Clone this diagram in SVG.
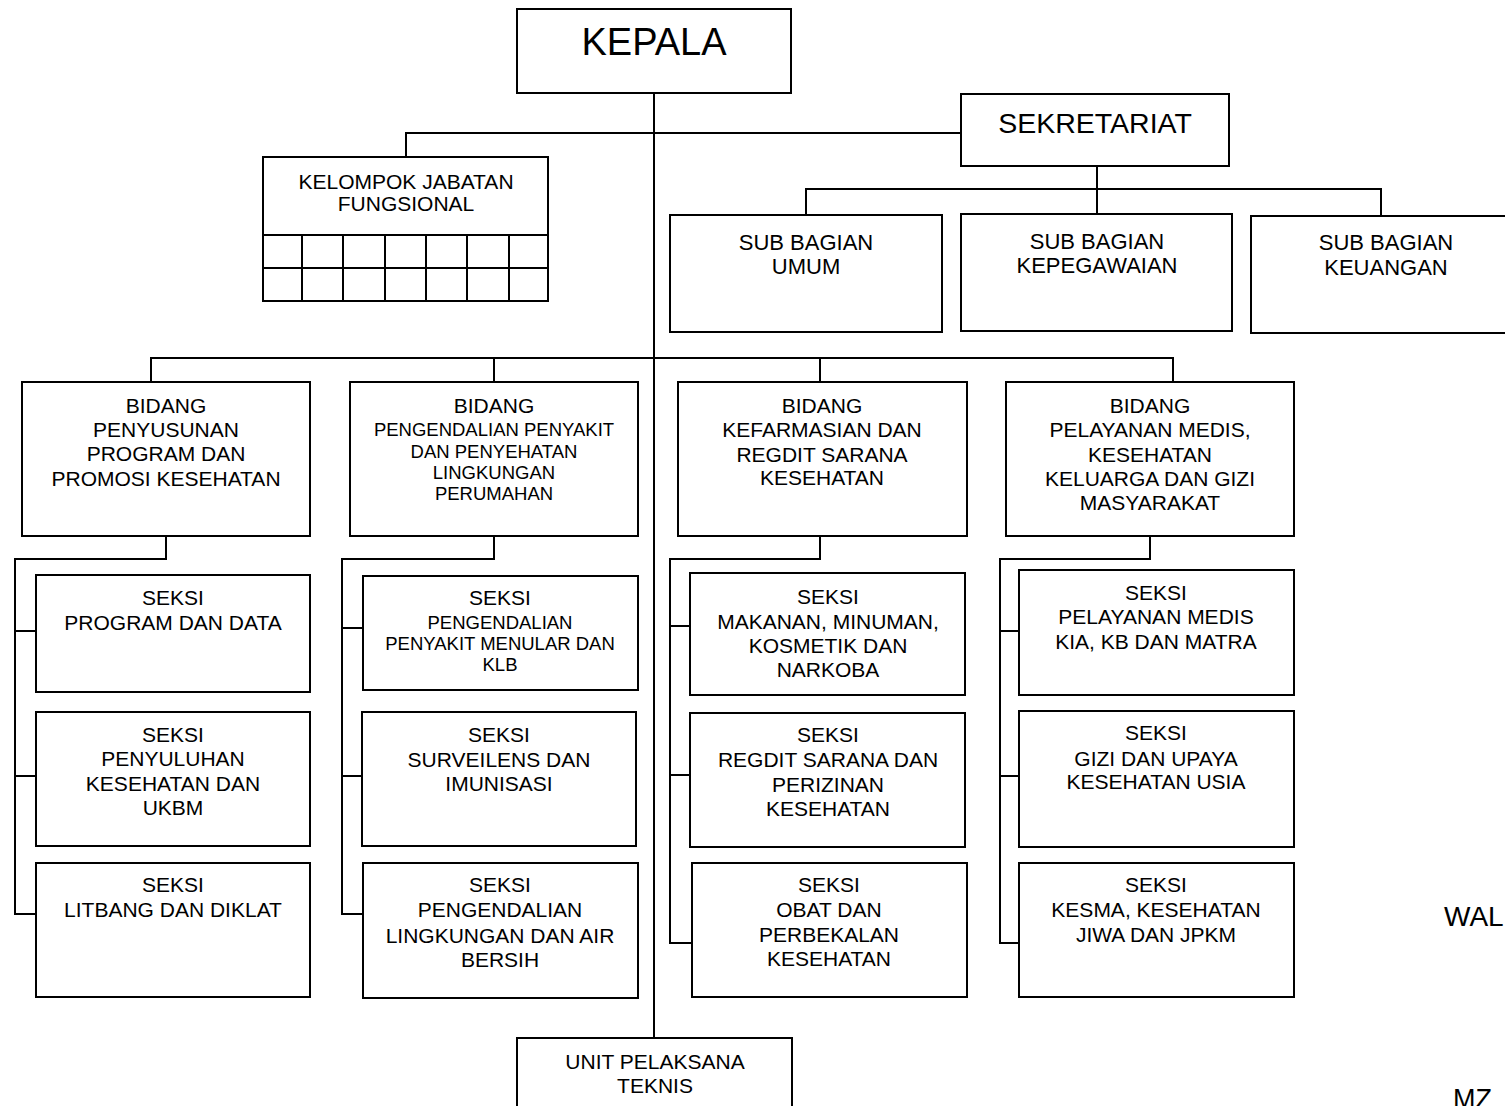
<svg xmlns="http://www.w3.org/2000/svg" width="1505" height="1106" viewBox="0 0 1505 1106">
<style>
rect{fill:#fff;stroke:#000;stroke-width:2}
.c path,.c line{fill:none;stroke:#000;stroke-width:2}
text{font-family:"Liberation Sans",Arial,sans-serif;fill:#000;text-anchor:middle;font-size:21px}
.s{font-size:18.5px}
.g line{stroke:#000;stroke-width:2}
</style>
<rect x="0" y="0" width="1505" height="1106" style="stroke:none"/>
<g class="c" id="connectors">
<line x1="654" y1="93" x2="654" y2="1038"/>
<path d="M406 157V133H961"/>
<path d="M1097 166V189M806 215V189H1381V216M1097 189V214"/>
<path d="M151 382V358H1173V382M494 358V382M820 358V382"/>
<path d="M166 536V559H15V914H36M15 631H36M15 776H36"/>
<path d="M494 536V559H342V914H363M342 628H363M342 776H362"/>
<path d="M820 536V559H670V943H692M670 626H690M670 775H690"/>
<path d="M1150 536V559H1000V943H1019M1000 631H1019M1000 776H1019"/>
</g>
<g id="kepala"><rect x="517" y="9" width="274" height="84"/><text x="654" y="55" style="font-size:38px">KEPALA</text></g>
<g id="sekretariat"><rect x="961" y="94" width="268" height="72"/><text x="1095" y="133" style="font-size:28.5px">SEKRETARIAT</text></g>
<g id="kelompok" class="g"><rect x="263" y="157" width="285" height="144"/>
<text x="406" y="189">KELOMPOK JABATAN</text><text x="406" y="211">FUNGSIONAL</text>
<line x1="263" y1="235" x2="548" y2="235"/><line x1="263" y1="268" x2="548" y2="268"/>
<line x1="302" y1="235" x2="302" y2="301"/><line x1="343" y1="235" x2="343" y2="301"/><line x1="385" y1="235" x2="385" y2="301"/><line x1="426" y1="235" x2="426" y2="301"/><line x1="467" y1="235" x2="467" y2="301"/><line x1="509" y1="235" x2="509" y2="301"/>
</g>
<g id="sb-umum"><rect x="670" y="215" width="272" height="117"/><text x="806" y="250" style="font-size:22px">SUB BAGIAN</text><text x="806" y="274" style="font-size:22px">UMUM</text></g>
<g id="sb-kepegawaian"><rect x="961" y="214" width="271" height="117"/><text x="1097" y="249" style="font-size:22px">SUB BAGIAN</text><text x="1097" y="273" style="font-size:22px">KEPEGAWAIAN</text></g>
<g id="sb-keuangan"><rect x="1251" y="216" width="262" height="117"/><text x="1386" y="250" style="font-size:22px">SUB BAGIAN</text><text x="1386" y="275" style="font-size:22px">KEUANGAN</text></g>

<g id="bidang1"><rect x="22" y="382" width="288" height="154"/><text x="166" y="413">BIDANG</text><text x="166" y="437">PENYUSUNAN</text><text x="166" y="461">PROGRAM DAN</text><text x="166" y="486">PROMOSI KESEHATAN</text></g>
<g id="bidang2"><rect x="350" y="382" width="288" height="154"/><text x="494" y="413">BIDANG</text><text class="s" x="494" y="436">PENGENDALIAN PENYAKIT</text><text class="s" x="494" y="458">DAN  PENYEHATAN</text><text class="s" x="494" y="479">LINGKUNGAN</text><text class="s" x="494" y="500">PERUMAHAN</text></g>
<g id="bidang3"><rect x="678" y="382" width="289" height="154"/><text x="822" y="413">BIDANG</text><text x="822" y="437">KEFARMASIAN  DAN</text><text x="822" y="462">REGDIT SARANA</text><text x="822" y="485">KESEHATAN</text></g>
<g id="bidang4"><rect x="1006" y="382" width="288" height="154"/><text x="1150" y="413">BIDANG</text><text x="1150" y="437">PELAYANAN MEDIS,</text><text x="1150" y="462">KESEHATAN</text><text x="1150" y="486">KELUARGA DAN GIZI</text><text x="1150" y="510">MASYARAKAT</text></g>

<g id="s1a"><rect x="36" y="575" width="274" height="117"/><text x="173" y="605">SEKSI</text><text x="173" y="630">PROGRAM DAN DATA</text></g>
<g id="s1b"><rect x="36" y="712" width="274" height="134"/><text x="173" y="742">SEKSI</text><text x="173" y="766">PENYULUHAN</text><text x="173" y="791">KESEHATAN DAN</text><text x="173" y="815">UKBM</text></g>
<g id="s1c"><rect x="36" y="863" width="274" height="134"/><text x="173" y="892">SEKSI</text><text x="173" y="917">LITBANG DAN  DIKLAT</text></g>

<g id="s2a"><rect x="363" y="576" width="275" height="114"/><text x="500" y="605">SEKSI</text><text class="s" x="500" y="629">PENGENDALIAN</text><text class="s" x="500" y="650">PENYAKIT MENULAR DAN</text><text class="s" x="500" y="671">KLB</text></g>
<g id="s2b"><rect x="362" y="712" width="274" height="134"/><text x="499" y="742">SEKSI</text><text x="499" y="767">SURVEILENS DAN</text><text x="499" y="791">IMUNISASI</text></g>
<g id="s2c"><rect x="363" y="863" width="275" height="135"/><text x="500" y="892">SEKSI</text><text x="500" y="917">PENGENDALIAN</text><text x="500" y="943">LINGKUNGAN DAN AIR</text><text x="500" y="967">BERSIH</text></g>

<g id="s3a"><rect x="690" y="573" width="275" height="122"/><text x="828" y="604">SEKSI</text><text x="828" y="629">MAKANAN, MINUMAN,</text><text x="828" y="653">KOSMETIK DAN</text><text x="828" y="677">NARKOBA</text></g>
<g id="s3b"><rect x="690" y="713" width="275" height="134"/><text x="828" y="742">SEKSI</text><text x="828" y="767">REGDIT SARANA DAN</text><text x="828" y="792">PERIZINAN</text><text x="828" y="816">KESEHATAN</text></g>
<g id="s3c"><rect x="692" y="863" width="275" height="134"/><text x="829" y="892">SEKSI</text><text x="829" y="917">OBAT DAN</text><text x="829" y="942">PERBEKALAN</text><text x="829" y="966">KESEHATAN</text></g>

<g id="s4a"><rect x="1019" y="570" width="275" height="125"/><text x="1156" y="600">SEKSI</text><text x="1156" y="624">PELAYANAN MEDIS</text><text x="1156" y="649">KIA, KB DAN MATRA</text></g>
<g id="s4b"><rect x="1019" y="711" width="275" height="136"/><text x="1156" y="740">SEKSI</text><text x="1156" y="766">GIZI DAN UPAYA</text><text x="1156" y="789">KESEHATAN USIA</text></g>
<g id="s4c"><rect x="1019" y="863" width="275" height="134"/><text x="1156" y="892">SEKSI</text><text x="1156" y="917">KESMA, KESEHATAN</text><text x="1156" y="942">JIWA DAN JPKM</text></g>

<g id="upt"><rect x="517" y="1038" width="275" height="80"/><text x="655" y="1069">UNIT PELAKSANA</text><text x="655" y="1093">TEKNIS</text></g>
<text x="1444" y="926" style="text-anchor:start;font-size:28px">WAL</text>
<text x="1453" y="1108" style="text-anchor:start;font-size:27px">MZ</text>
</svg>
